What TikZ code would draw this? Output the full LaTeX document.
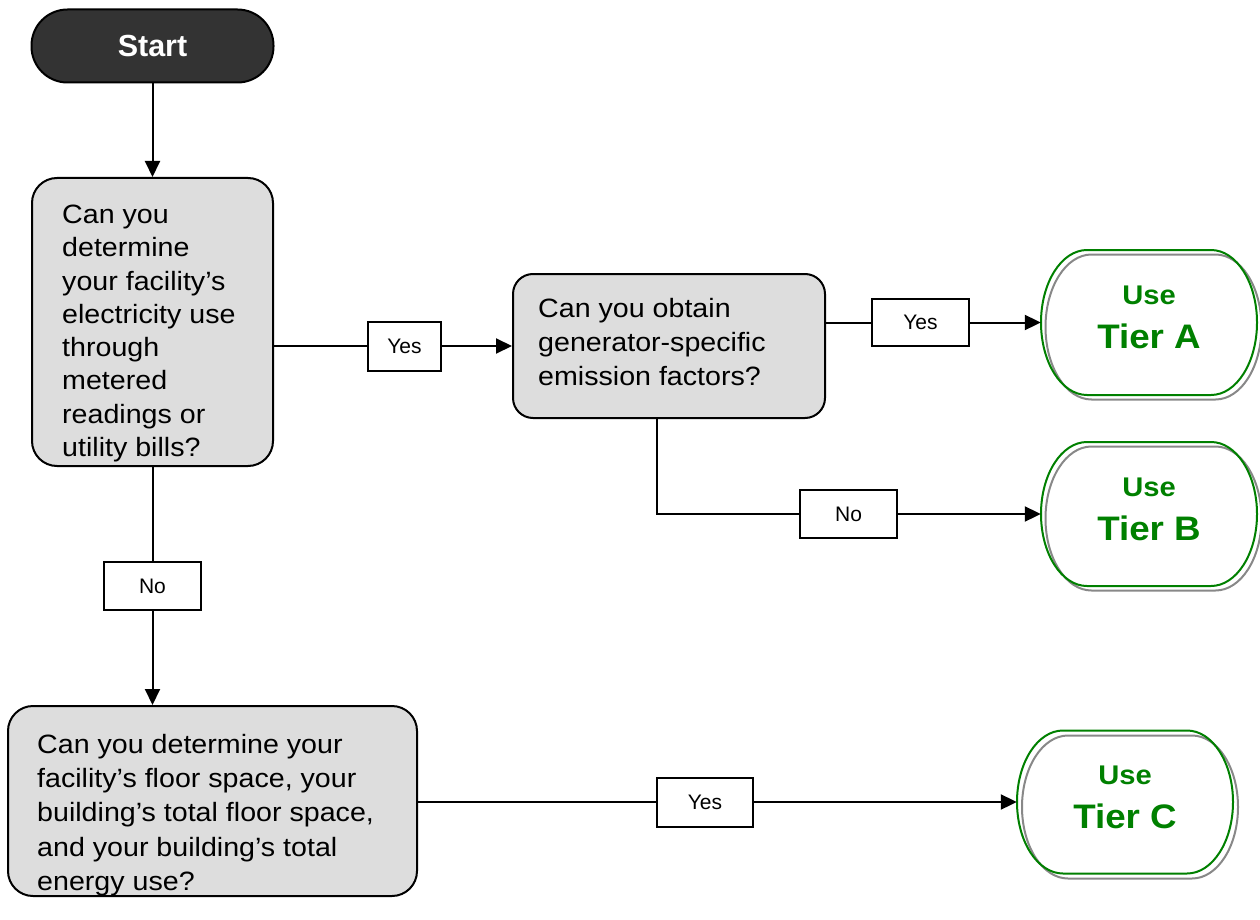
\documentclass[tikz,border=0pt]{standalone}
\usepackage{fontspec}
\setmainfont{Liberation Sans}
\newfontfamily\qfont[FakeStretch=1.08]{Liberation Sans}
\usetikzlibrary{arrows.meta}
\definecolor{qgray}{HTML}{DDDDDD}
\definecolor{startgray}{HTML}{333333}
\definecolor{tiergreen}{HTML}{008000}
\definecolor{tiershade}{HTML}{888888}
\newcommand\tiershape[5]{% style, cx, cy, half width, half height
  \draw[#1] (#2-#4+46,#3-#5) -- (#2+#4-46,#3-#5)
    arc[start angle=-90,end angle=90,x radius=46,y radius=#5]
    -- (#2-#4+46,#3+#5)
    arc[start angle=90,end angle=270,x radius=46,y radius=#5] -- cycle;}
\begin{document}
\begin{tikzpicture}[x=1pt,y=-1pt,
  conn/.style={draw=black,line width=2pt},
  arr/.style={conn,-{Triangle[length=16pt,width=15pt]}},
  qbox/.style={draw=black,fill=qgray,line width=2pt,inner sep=0pt},
  qtext/.style={inner sep=0pt,align=left,anchor=north west},
  lbl/.style={draw=black,fill=white,line width=2pt,inner sep=0pt,
    minimum width=97pt,minimum height=48pt,font=\fontsize{21}{25}\selectfont},
  startbox/.style={draw=black,fill=startgray,line width=2pt,rounded corners=36pt,
    minimum width=242pt,minimum height=73pt,inner sep=0pt,text=white,
    font=\bfseries\fontsize{30.5}{36}\selectfont},
  tierbox/.style={minimum width=216pt,minimum height=145pt,inner sep=0pt},
  tiertext/.style={inner sep=0pt,align=center,anchor=north,text=tiergreen,
    font=\qfont\bfseries\fontsize{34}{44}\selectfont},
  tgreen/.style={draw=tiergreen,line width=2pt},
  tshade/.style={draw=tiershade,line width=2pt}
]
\useasboundingbox (0,0) rectangle (1260,920);

% start
\node[startbox] (start) at (152.5,46) {Start};

% questions
\node[qbox,rounded corners=25pt,minimum width=241pt,minimum height=288pt] (q1) at (152.5,322) {};
\node[qtext,font=\qfont\fontsize{26.5}{33.3}\selectfont] (q1t) at (62,204.7)
  {Can you\\determine\\your facility’s\\electricity use\\through\\metered\\readings or\\utility bills?};

\node[qbox,rounded corners=20pt,minimum width=312pt,minimum height=144pt] (q2) at (669,346) {};
\node[qtext,font=\qfont\fontsize{26.5}{34.4}\selectfont] (q2t) at (538,297.7)
  {Can you obtain\\generator-specific\\emission factors?};

\node[qbox,rounded corners=25pt,minimum width=409pt,minimum height=190pt] (q3) at (212.5,801) {};
\node[qtext,font=\qfont\fontsize{26.5}{34.3}\selectfont] (q3t) at (37,733.7)
  {Can you determine your\\facility’s floor space, your\\building’s total floor space,\\and your building’s total\\energy use?};

% tiers
\tiershape{tshade}{1153.5}{327}{108}{72.5}
\tiershape{tgreen}{1149}{322.5}{108}{72.5}
\node[tierbox] (ta) at (1149,322.5) {};
\node[tiertext] (tat) at (1149,286) {{\fontsize{27}{44}\selectfont Use}\\Tier A};

\tiershape{tshade}{1153.5}{518.5}{108}{72}
\tiershape{tgreen}{1149}{514}{108}{72}
\node[tierbox,minimum height=144pt] (tb) at (1149,514) {};
\node[tiertext] (tbt) at (1149,477.5) {{\fontsize{27}{44}\selectfont Use}\\Tier B};

\tiershape{tshade}{1130}{807}{108}{71.5}
\tiershape{tgreen}{1125}{802}{108}{71.5}
\node[tierbox,minimum height=143pt] (tc) at (1125,802) {};
\node[tiertext] (tct) at (1125,766) {{\fontsize{27}{44}\selectfont Use}\\Tier C};

% labels
\node[lbl,minimum width=73pt,minimum height=49pt] (y1) at (404.5,346) {Yes};
\node[lbl,minimum height=47pt] (ya) at (920.5,322.5) {Yes};
\node[lbl] (nb) at (848.5,514) {No};
\node[lbl] (na) at (152.5,586) {No};
\node[lbl,minimum width=96pt,minimum height=49pt] (yc) at (705,802) {Yes};

% connectors
\draw[arr] (start.south) -- (q1.north);
\draw[conn] (q2.west -| q1.east) -- (y1.west);
\draw[arr] (y1.east) -- (q2.west);
\draw[conn] (ta.west -| q2.east) -- (ya.west);
\draw[arr] (ya.east) -- (ta.west);
\draw[conn] ([xshift=-12pt]q2.south) |- (nb.west);
\draw[arr] (nb.east) -- (tb.west);
\draw[conn] (q1.south) -- (na.north);
\draw[arr] (na.south) -- (q3.north -| na.south);
\draw[conn] (yc.west -| q3.east) -- (yc.west);
\draw[arr] (yc.east) -- (tc.west);
\end{tikzpicture}
\end{document}
